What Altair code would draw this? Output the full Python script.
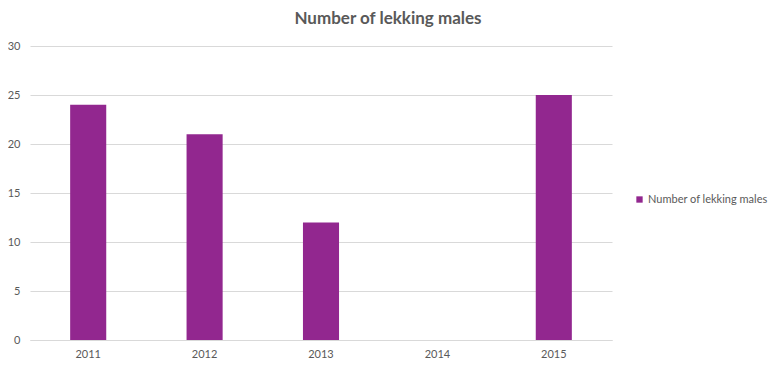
import altair as alt
import pandas as pd

years = ["2011", "2012", "2013", "2014", "2015"]
values = [24, 21, 12, 0, 25]
series = "Number of lekking males"

df = pd.DataFrame({"year": years, "value": values, "series": [series] * len(years)})

font = "Lato"
grey = "#595959"

chart = alt.Chart(df).mark_bar(color="#92278F").encode(
    x=alt.X("year:N", sort=years, title=None,
            scale=alt.Scale(paddingInner=0.69, paddingOuter=0.345),
            axis=alt.Axis(labelAngle=0, ticks=False, domainColor="#d9d9d9",
                          labelPadding=8, labelColor=grey, labelFont=font, labelFontSize=11)),
    y=alt.Y("value:Q", title=None,
            scale=alt.Scale(domain=[0, 30]),
            axis=alt.Axis(values=[0, 5, 10, 15, 20, 25, 30], ticks=False, domain=False,
                          gridColor="#d9d9d9", labelPadding=10, labelColor=grey,
                          labelFont=font, labelFontSize=11)),
    fill=alt.Fill("series:N", scale=alt.Scale(range=["#92278F"]),
                  legend=alt.Legend(title=None, orient="none", legendX=604, legendY=148,
                                    symbolType="square", symbolSize=40, symbolStrokeWidth=0,
                                    labelFont=font, labelFontSize=11, labelColor=grey,
                                    labelOffset=3, labelLimit=300)),
).properties(
    width=582,
    height=294,
    padding={"left": 22, "top": 38, "right": 160, "bottom": 20},
    autosize=alt.AutoSizeParams(type="none"),
    title=alt.TitleParams(series, anchor="middle", frame="group", dx=67, offset=12,
                          font=font, fontSize=17, fontWeight="bold", color=grey),
).configure_view(stroke=None)

chart.save("out.html", embed_options={"renderer": "svg", "actions": False})
